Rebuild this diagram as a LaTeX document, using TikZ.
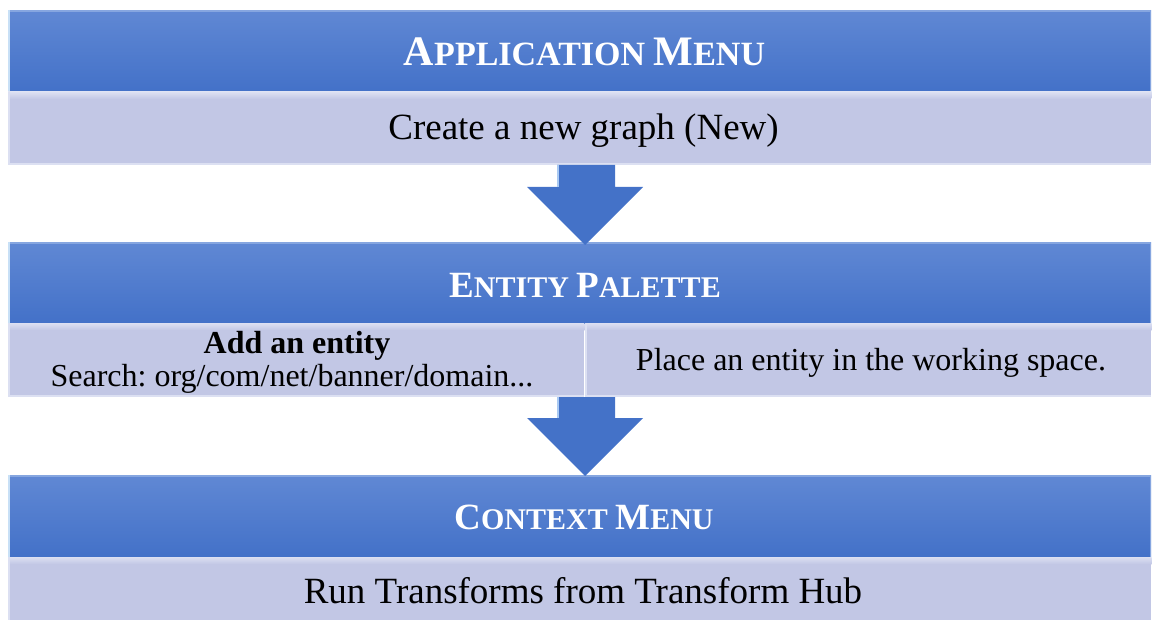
\documentclass[tikz,border=0pt]{standalone}
\usepackage{fontspec}
\setmainfont{Liberation Serif}
\usetikzlibrary{calc}
\frenchspacing
\definecolor{hdrtop}{HTML}{6088D4}
\definecolor{hdrbot}{HTML}{4371C8}
\definecolor{hdredge}{HTML}{C8E0F6}
\definecolor{hdrtopline}{HTML}{86A6E0}
\definecolor{subfill}{HTML}{C2C7E5}
\definecolor{subhi}{HTML}{DCE0F2}
\definecolor{arrfill}{HTML}{4472C8}
\definecolor{arrhi}{HTML}{A9C9F2}
\newcommand\lgcap[2]{{\fontsize{#1pt}{#1pt}\selectfont #2}}
\tikzset{
  hdr/.style={anchor=north west, inner sep=0pt, minimum width=1143pt, top color=hdrtop, bottom color=hdrbot, draw=none},
  subbox/.style={anchor=north west, inner sep=0pt, fill=subfill, draw=none},
  hdrtext/.style={anchor=base, text=white, font=\bfseries, inner sep=0pt},
  bodytext/.style={anchor=base, text=black, inner sep=0pt, font=\fontsize{37pt}{37pt}\selectfont},
  smalltext/.style={anchor=base, text=black, inner sep=0pt, font=\fontsize{32pt}{32pt}\selectfont},
  blockarrow/.style={fill=arrfill, draw=none},
  edgehi/.style={draw=hdredge, line width=2pt},
  tophi/.style={draw=hdrtopline, line width=2pt},
  subedge/.style={draw=subhi, line width=2pt},
}
\begin{document}
\begin{tikzpicture}[x=1pt,y=-1pt]
\useasboundingbox (0,0) rectangle (1153,620);
\clip (0,0) rectangle (1153,620);

% ---- boxes ----
\node[hdr, minimum height=82pt] (h1) at (8,10) {};
\node[subbox, minimum width=1143pt, minimum height=73pt] (b1) at (8,92) {};
\node[hdr, minimum height=81pt] (h2) at (8,242) {};
\node[subbox, minimum width=576pt, minimum height=74pt] (b2l) at (8,323) {};
\node[subbox, minimum width=566pt, minimum height=74pt] (b2r) at (585,323) {};
\node[hdr, minimum height=82pt] (h3) at (8,475) {};
\node[subbox, minimum width=1143pt, minimum height=80pt] (b3) at (8,557) {};

% ---- bevel highlights ----
\foreach \h in {h1,h2,h3}{
  \draw[tophi] ($(\h.north west)+(0,1)$) -- ($(\h.north east)+(0,1)$);
  \draw[edgehi] ($(\h.north west)+(1,0)$) -- ($(\h.south west)+(1,0)$);
  \draw[draw=hdrtopline, line width=1.5pt] ($(\h.north east)+(-1,0)$) -- ($(\h.south east)+(-1,0)$);
}
\foreach \b in {b1,b2l,b2r,b3}{
  \fill[top color=subhi, bottom color=subfill] (\b.north west) rectangle ($(\b.north east)+(0,7)$);
  \draw[subedge] ($(\b.north west)+(1,0)$) -- ($(\b.south west)+(1,0)$);
  \draw[subedge] ($(\b.south west)+(0,-1)$) -- ($(\b.south east)+(0,-1)$);
}

% ---- arrows ----
\coordinate (a1top) at (586,165);
\coordinate (a1tip) at (585,245);
\coordinate (a2top) at (586,397);
\coordinate (a2tip) at (585,476);
\draw[blockarrow] ($(a1top)+(-29,0)$) -- ($(a1top)+(-29,22)$) -- ($(a1top)+(-59,22)$) -- (a1tip)
   -- ($(a1top)+(57,22)$) -- ($(a1top)+(29,22)$) -- ($(a1top)+(29,0)$) -- cycle;
\draw[draw=arrhi, line width=2pt] ($(a1top)+(-28,0)$) -- ($(a1top)+(-28,22)$);
\draw[blockarrow] ($(a2top)+(-29,0)$) -- ($(a2top)+(-29,21)$) -- ($(a2top)+(-59,21)$) -- (a2tip)
   -- ($(a2top)+(57,21)$) -- ($(a2top)+(29,21)$) -- ($(a2top)+(29,0)$) -- cycle;
\draw[draw=arrhi, line width=2pt] ($(a2top)+(-28,0)$) -- ($(a2top)+(-28,21)$);

% ---- texts ----
\node[hdrtext] (t1) at (584.5,66) {\lgcap{42}{A}\lgcap{34}{PPLICATION }\lgcap{42}{M}\lgcap{34}{ENU}};
\node[bodytext] (t2) at (583.5,140) {Create a new graph (New)};
\node[hdrtext] (t3) at (585,297) {\lgcap{37}{E}\lgcap{30}{NTITY }\lgcap{37}{P}\lgcap{30}{ALETTE}};
\node[smalltext, font=\fontsize{32pt}{32pt}\selectfont\bfseries] (t4) at (297,353) {Add an entity};
\node[smalltext] (t5) at (292,386) {Search: org/com/net/banner/domain...};
\node[smalltext] (t6) at (871,370) {Place an entity in the working space.};
\node[hdrtext] (t7) at (584,529) {\lgcap{37}{C}\lgcap{30}{ONTEXT }\lgcap{37}{M}\lgcap{30}{ENU}};
\node[bodytext] (t8) at (583,603) {Run Transforms from Transform Hub};
\end{tikzpicture}
\end{document}
